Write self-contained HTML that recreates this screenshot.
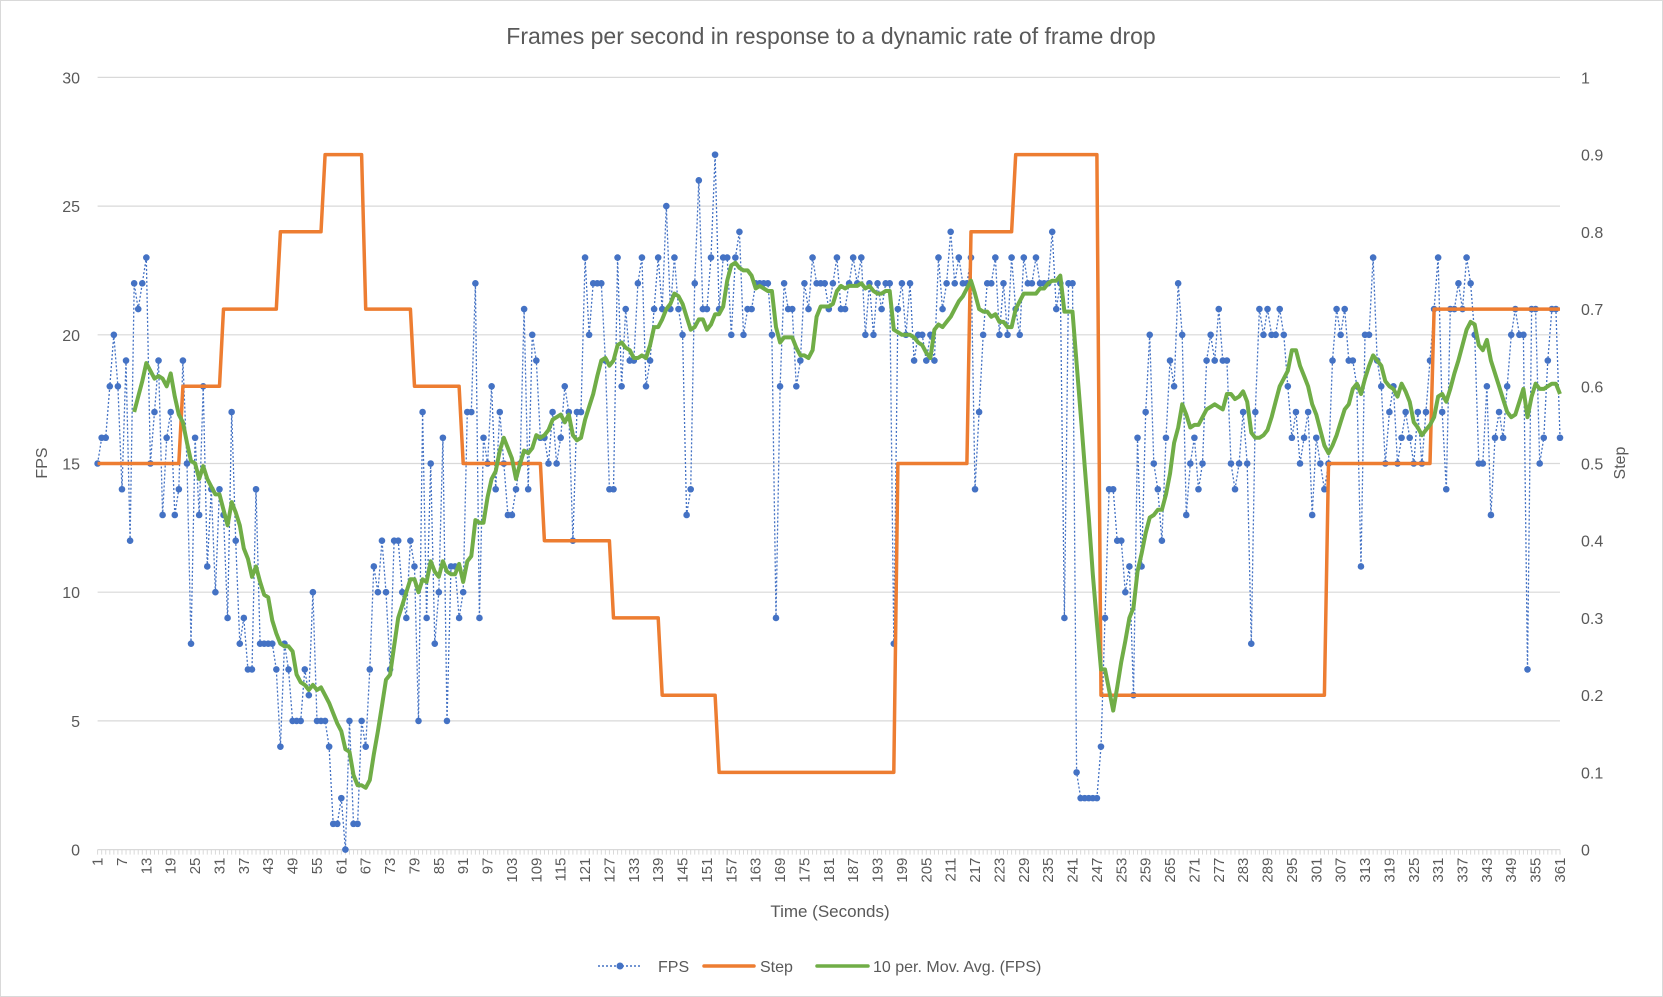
<!DOCTYPE html>
<html><head><meta charset="utf-8"><style>
body{margin:0;background:#fff;}
svg{display:block;font-family:"Liberation Sans",sans-serif;}
</style></head><body>
<svg id="chart" width="1663" height="997" viewBox="0 0 1663 997">
<rect x="0.5" y="0.5" width="1662" height="996" fill="#fff" stroke="#d9d9d9"/>
<text x="831" y="44" text-anchor="middle" font-size="23" fill="#595959">Frames per second in response to a dynamic rate of frame drop</text>
<g id="grid"></g><g id="axes"></g><g id="series"></g>
<text x="47" y="463" transform="rotate(-90 47 463)" text-anchor="middle" font-size="16" fill="#595959">FPS</text>
<text x="1625" y="463" transform="rotate(-90 1625 463)" text-anchor="middle" font-size="16" fill="#595959">Step</text>
<text x="830" y="917" text-anchor="middle" font-size="17" fill="#595959">Time (Seconds)</text>
<g font-size="16" fill="#595959">
<g><line x1="598" y1="966" x2="642" y2="966" stroke="#4472c4" stroke-width="1.5" stroke-dasharray="2,2"/><circle cx="620" cy="966" r="3.5" fill="#4472c4"/><text x="658" y="972">FPS</text></g>
<g><line x1="704" y1="966" x2="754" y2="966" stroke="#ed7d31" stroke-width="3.5" stroke-linecap="round"/><text x="760" y="972">Step</text></g>
<g><line x1="817" y1="966" x2="868" y2="966" stroke="#70ad47" stroke-width="3.5" stroke-linecap="round"/><text x="873" y="972">10 per. Mov. Avg. (FPS)</text></g>
</g>
</svg>
<script>
const fpsValues=[15,16,16,18,20,18,14,19,12,22,21,22,23,15,17,19,13,16,17,13,
14,19,15,8,16,13,18,11,14,10,14,13,9,17,12,8,9,7,7,14,
8,8,8,8,7,4,8,7,5,5,5,7,6,10,5,5,5,4,1,1,
2,0,5,1,1,5,4,7,11,10,12,10,7,12,12,10,9,12,11,5,
17,9,15,8,10,16,5,11,11,9,10,17,17,22,9,16,15,18,14,17,
15,13,13,14,15,21,14,20,19,16,16,15,17,15,16,18,17,12,17,17,
23,20,22,22,22,19,14,14,23,18,21,19,19,22,23,18,19,21,23,21,25,21,
23,21,20,13,14,22,26,21,21,23,27,21,23,23,20,23,24,20,21,21,
22,22,22,22,20,9,18,22,21,21,18,19,22,21,23,22,22,22,21,22,23,
21,21,22,23,22,23,20,22,20,22,21,22,22,8,21,22,20,22,19,20,
20,19,20,19,23,21,22,24,22,23,22,22,23,14,17,20,22,22,23,20,22,
20,23,21,20,23,22,22,23,22,22,22,24,21,22,9,22,22,3,2,2,
2,2,2,4,9,14,14,12,12,10,11,6,16,11,17,20,15,14,12,16,
19,18,22,20,13,15,16,14,15,19,20,19,21,19,19,15,14,15,17,15,
8,17,21,20,21,20,20,21,20,18,16,17,15,16,17,13,16,15,14,15,
19,21,20,21,19,19,18,11,20,20,23,19,18,15,17,18,15,16,17,16,
15,17,15,17,19,21,23,17,14,21,21,22,21,23,22,20,15,15,18,13,
16,17,16,18,20,21,20,20,7,21,21,15,16,19,21,21,16];
const stepStarts=[1,22,32,46,57,67,79,91,111,128,140,154,198,216,227,248,304,330];
const stepValues=[0.5,0.6,0.7,0.8,0.9,0.7,0.6,0.5,0.4,0.3,0.2,0.1,0.5,0.8,0.9,0.2,0.5,0.7];
const yTicks=[0,5,10,15,20,25,30];
const y2Ticks=["0","0.1","0.2","0.3","0.4","0.5","0.6","0.7","0.8","0.9","1"];
const NS="http://www.w3.org/2000/svg";
const L=97.6,R=1560,T=77.4,B=849.6,N=361;
const xs=i=>L+(i-1)*(R-L)/(N-1);
const ys=v=>B-(v/30)*(B-T);
const y2s=v=>B-v*(B-T);
function mk(tag,attrs,parent){const e=document.createElementNS(NS,tag);for(const k in attrs)e.setAttribute(k,attrs[k]);parent.appendChild(e);return e;}
const grid=document.getElementById('grid'),axes=document.getElementById('axes'),ser=document.getElementById('series');
yTicks.forEach(v=>{
 const g=mk('line',{x1:L,x2:R,y1:ys(v),y2:ys(v),stroke:'#d9d9d9','stroke-width':1.2},grid);
 
 
 const t=mk('text',{x:80,y:ys(v)+6,'text-anchor':'end','font-size':16,fill:'#595959'},axes);
 t.textContent=v;
 
 
});
y2Ticks.forEach(s=>{
 const t=mk('text',{x:1581,y:y2s(parseFloat(s))+6,'font-size':16,fill:'#595959'},axes);
 t.textContent=s;
 
 
});
for(let i=1;i<=N;i++){
 const tk=mk('line',{x1:xs(i),x2:xs(i),y1:B,y2:B+5,stroke:'#d9d9d9','stroke-width':1},axes);
 
 
 if((i-1)%6===0){
  const x=xs(i)+5,y=B+8;
  const t=mk('text',{x:x,y:y,transform:`rotate(-90 ${x} ${y})`,'text-anchor':'end','font-size':15,fill:'#595959'},axes);
  t.textContent=i;
  
  
 }
}
let d='';fpsValues.forEach((v,i)=>{d+=(i?'L':'M')+xs(i+1).toFixed(1)+' '+ys(v).toFixed(1);});
const fl=mk('path',{d:d,fill:'none',stroke:'#4472c4','stroke-width':1.3,'stroke-dasharray':'2,2'},ser);


fpsValues.forEach((v,i)=>{
 const c=mk('circle',{cx:xs(i+1),cy:ys(v),r:3.3,fill:'#4472c4'},ser);
 
 
});
const stepAt=i=>{let v=stepValues[0];stepStarts.forEach((s,k)=>{if(i>=s)v=stepValues[k];});return v;};
let sd='';for(let i=1;i<=N;i++){sd+=(i>1?'L':'M')+xs(i).toFixed(1)+' '+y2s(stepAt(i)).toFixed(1);}
const sl=mk('path',{d:sd,fill:'none',stroke:'#ed7d31','stroke-width':3.5,'stroke-linejoin':'round'},ser);


let md='';for(let i=9;i<fpsValues.length;i++){let s=0;for(let k=i-9;k<=i;k++)s+=fpsValues[k];md+=(i>9?'L':'M')+xs(i+1).toFixed(1)+' '+ys(s/10).toFixed(1);}
const ml=mk('path',{d:md,fill:'none',stroke:'#70ad47','stroke-width':4,'stroke-linejoin':'round'},ser);


</script>
</body></html>
